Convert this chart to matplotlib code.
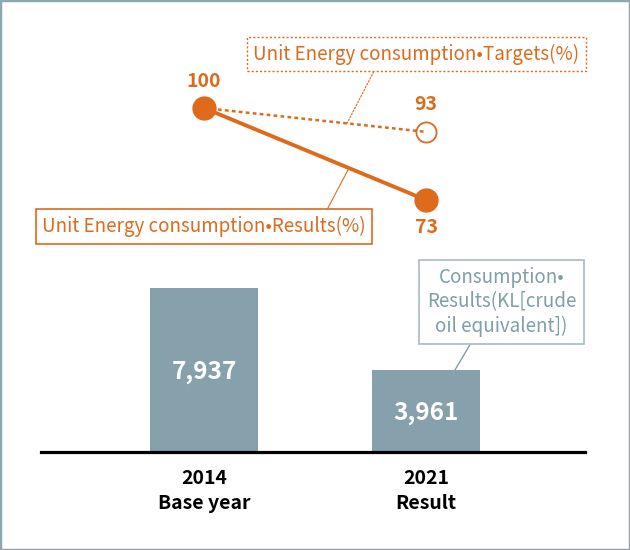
import matplotlib
matplotlib.use('Agg')
import matplotlib.pyplot as plt
from matplotlib.patches import Rectangle

plt.rcParams['font.family'] = ['Noto Sans CJK KR', 'DejaVu Sans']

# data
categories = ['2014\nBase year', '2021\nResult']
consumption = [7937, 3961]          # KL crude oil equivalent
unit_results = [100, 73]            # %
unit_targets = [100, 93]            # %

ORANGE = '#de6a1c'
BAR = '#86a1ab'
BOXTXT = '#7f9ea8'
BOXEDGE = '#a6bcc3'

fig = plt.figure(figsize=(6.3, 5.5), dpi=100)
W, H = 630, 550

def frac(x0, y0, w, h):
    return [x0 / W, (H - y0 - h) / H, w / W, h / H]

xlim = (-0.734, 1.716)
xs = list(range(len(categories)))

# ---- bars
axb = fig.add_axes(frac(41, 260, 544, 192))
axb.bar(xs, consumption, width=0.486, color=BAR)
axb.set_xlim(*xlim)
axb.set_ylim(0, 9292)
for s in ['top', 'right', 'left']:
    axb.spines[s].set_visible(False)
axb.spines['bottom'].set_linewidth(2.3)
axb.spines['bottom'].set_color('black')
axb.set_yticks([])
axb.set_xticks(xs)
axb.set_xticklabels(categories, fontsize=14, fontweight='bold', linespacing=1.4)
axb.tick_params(axis='x', length=0, pad=12)
axb.patch.set_alpha(0)
for x, v in zip(xs, consumption):
    axb.text(x, v / 2 - 80, f'{v:,}', ha='center', va='center', color='white',
             fontsize=17.5, fontweight='bold')

axb.annotate('Consumption•\nResults(KL[crude\noil equivalent])',
             xy=(xs[1] + 0.13, consumption[1]), xytext=(1.34, 7259),
             ha='center', va='center', fontsize=13.5, color=BOXTXT,
             fontweight='medium', linespacing=1.2,
             bbox=dict(boxstyle='square,pad=0.4', fc='white', ec=BOXEDGE, lw=1.2),
             arrowprops=dict(arrowstyle='-', color=BOXTXT, lw=1,
                             relpos=(0.32, 0), shrinkA=0, shrinkB=0))

# ---- lines
axl = fig.add_axes(frac(41, 30, 544, 220))
axl.set_xlim(*xlim)
axl.set_ylim(58.32, 122.9)
axl.axis('off')
axl.patch.set_alpha(0)

axl.plot(xs, unit_targets, color=ORANGE, lw=1.8, linestyle=(0, (1.5, 1.3)), zorder=2)
axl.plot(xs, unit_results, color=ORANGE, lw=2.8, zorder=3)
axl.plot(xs[1], unit_targets[1], 'o', ms=14.5, mfc='none', mec=ORANGE, mew=1.3, zorder=2)
axl.plot(xs, unit_results, 'o', ms=16.5, color=ORANGE, zorder=4)

axl.annotate(f'{unit_results[0]}', (xs[0], unit_results[0]), xytext=(0, 19),
             textcoords='offset points', ha='center', va='center',
             color=ORANGE, fontsize=14, fontweight='bold')
axl.annotate(f'{unit_targets[1]}', (xs[1], unit_targets[1]), xytext=(0, 19.5),
             textcoords='offset points', ha='center', va='center',
             color=ORANGE, fontsize=14, fontweight='bold')
axl.annotate(f'{unit_results[1]}', (xs[1], unit_results[1]), xytext=(0, -20),
             textcoords='offset points', ha='center', va='center',
             color=ORANGE, fontsize=14, fontweight='bold')

t = 0.644
axl.annotate('Unit Energy consumption•Targets(%)',
             xy=(xs[0] + t * (xs[1] - xs[0]),
                 unit_targets[0] + t * (unit_targets[1] - unit_targets[0])),
             xytext=(0.957, 115.85), ha='center', va='center',
             fontsize=13.5, color=ORANGE, fontweight='medium',
             bbox=dict(boxstyle='square,pad=0.35', fc='white', ec=ORANGE,
                       lw=1, linestyle=(0, (1.5, 1.5))),
             arrowprops=dict(arrowstyle='-', color=ORANGE, lw=0.8,
                             linestyle=(0, (1.5, 1.5)),
                             relpos=(0.38, 0), shrinkA=0, shrinkB=0))
t = 0.653
axl.annotate('Unit Energy consumption•Results(%)',
             xy=(xs[0] + t * (xs[1] - xs[0]),
                 unit_results[0] + t * (unit_results[1] - unit_results[0])),
             xytext=(0.0, 65.22), ha='center', va='center',
             fontsize=13.5, color=ORANGE, fontweight='medium',
             bbox=dict(boxstyle='square,pad=0.35', fc='white', ec=ORANGE, lw=1.2),
             arrowprops=dict(arrowstyle='-', color=ORANGE, lw=0.8,
                             relpos=(0.87, 1), shrinkA=0, shrinkB=0))

fig.patches.append(Rectangle((0, 0), 1, 1, transform=fig.transFigure,
                             fill=False, ec='#8fa7ae', lw=2.5))

fig.savefig('out.png', dpi=100)
